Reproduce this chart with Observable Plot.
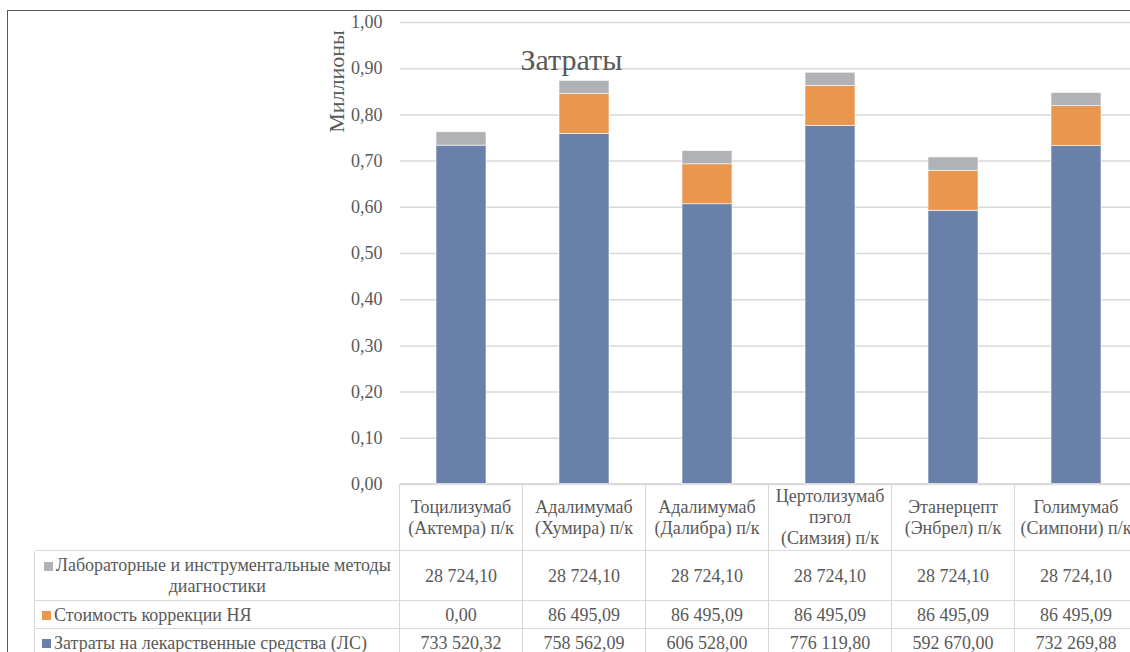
<!DOCTYPE html>
<html>
<head>
<meta charset="utf-8">
<script src="https://cdn.jsdelivr.net/npm/d3@7"></script>
<script src="https://cdn.jsdelivr.net/npm/@observablehq/plot@0.6"></script>
<style>
  body { margin: 0; background: #fff; }
  #wrap { position: relative; width: 1130px; height: 652px; overflow: hidden;
          font-family: "Liberation Serif", "Tinos", "Times New Roman", "DejaVu Serif", "Noto Serif", serif; color: #595959; }
  #frame { position: absolute; left: 7px; top: 10px; width: 1300px; height: 800px;
           border-left: 1.5px solid #5a5a5a; border-top: 1.5px solid #5a5a5a; box-sizing: border-box; }
  .cell { position: absolute; box-sizing: border-box; display: flex; align-items: center;
          justify-content: center; text-align: center; font-size: 18px; line-height: 21px; white-space: nowrap; }
  .hl { position: absolute; height: 0; border-top: 1.5px solid #d9d9d9; }
  .vl { position: absolute; width: 0; border-left: 1.5px solid #d9d9d9; }
  .key { display: inline-block; width: 9px; height: 9px; margin-right: 3px; vertical-align: 0px; }
  #chart { position: absolute; left: 0; top: 0; }
  #chart svg text { font-family: "Liberation Serif", "Tinos", "Times New Roman", "DejaVu Serif", "Noto Serif", serif; }
</style>
</head>
<body>
<div id="wrap">
  <div id="chart"></div>
  <div id="table"></div>
  <div id="frame"></div>
</div>
<script>
// ---- data ----
const categories = [
  "Тоцилизумаб (Актемра) п/к",
  "Адалимумаб (Хумира) п/к",
  "Адалимумаб (Далибра) п/к",
  "Цертолизумаб пэгол (Симзия) п/к",
  "Этанерцепт (Энбрел) п/к",
  "Голимумаб (Симпони) п/к"
];
const headerLines = [
  ["Тоцилизумаб", "(Актемра) п/к"],
  ["Адалимумаб", "(Хумира) п/к"],
  ["Адалимумаб", "(Далибра) п/к"],
  ["Цертолизумаб", "пэгол", "(Симзия) п/к"],
  ["Этанерцепт", "(Энбрел) п/к"],
  ["Голимумаб", "(Симпони) п/к"]
];
const seriesNames = [
  "Затраты на лекарственные средства (ЛС)",
  "Стоимость коррекции НЯ",
  "Лабораторные и инструментальные методы диагностики"
];
const drugCosts = [733520.32, 758562.09, 606528.00, 776119.80, 592670.00, 732269.88];
const aeCosts   = [0.00, 86495.09, 86495.09, 86495.09, 86495.09, 86495.09];
const labCosts  = [28724.10, 28724.10, 28724.10, 28724.10, 28724.10, 28724.10];
const seriesColors = ["#6980a9", "#e9964f", "#b1b2b5"];
const yTicks = [0, 0.1, 0.2, 0.3, 0.4, 0.5, 0.6, 0.7, 0.8, 0.9, 1.0];
const title = "Затраты";
const yLabel = "Миллионы";

// ---- build table for Plot ----
const seriesValues = [drugCosts, aeCosts, labCosts];
const rows = [];
seriesNames.forEach((s, si) => {
  categories.forEach((c, ci) => rows.push({cat: c, series: s, value: seriesValues[si][ci]}));
});

const W = 1130, H = 652;
const plot = Plot.plot({
  width: W, height: H,
  marginLeft: 400, marginRight: 0, marginTop: 22, marginBottom: H - 484,
  style: {fontSize: "18px", color: "#595959", background: "transparent", overflow: "hidden"},
  x: {domain: categories, range: [400, 1138], paddingInner: 0.593, paddingOuter: 0.2965, axis: null},
  y: {domain: [0, 1], axis: null},
  color: {domain: seriesNames, range: seriesColors},
  marks: [
    Plot.gridY(yTicks, {stroke: "#d9d9d9", strokeOpacity: 1, strokeWidth: 1.5}),
    Plot.barY(rows, {x: "cat", y: d => d.value / 1e6, fill: "series", stroke: "#ffffff", strokeWidth: 0.6}),
    Plot.axisY(yTicks, {tickSize: 0, tickPadding: 18, tickFormat: d => d.toFixed(2).replace(".", ","), fill: "#595959", fontSize: 18}),
    Plot.text([title], {frameAnchor: "top-left", dx: 120, dy: 26, textAnchor: "start", fontSize: 30, fill: "#595959"}),
    Plot.text([yLabel], {frameAnchor: "top-left", dx: -72, dy: 59, rotate: -90, textAnchor: "middle", fontSize: 22, fill: "#595959"})
  ]
});
document.getElementById("chart").appendChild(plot);

// ---- data table below the chart, aligned to the x scale ----
const xs = plot.scale("x");
const fmt = d3.formatLocale({decimal: ",", thousands: "\u00a0", grouping: [3]}).format(",.2f");
const tbl = document.getElementById("table");
const rowY = [484, 551, 601, 629, 662];
const legendLeft = 35;
const colEdge = c => xs.apply(c) - (xs.step - xs.bandwidth) / 2;
const lastEdge = colEdge(categories[categories.length - 1]) + xs.step;
const edges = categories.map(colEdge).concat([lastEdge]);

function add(cls, style, html) {
  const d = document.createElement("div");
  d.className = cls;
  Object.assign(d.style, style);
  if (html != null) d.innerHTML = html;
  tbl.appendChild(d);
  return d;
}
add("hl", {left: edges[0] + "px", top: (rowY[0] - 0.75) + "px", width: (lastEdge - edges[0]) + "px"});
for (let i = 1; i < 4; i++) add("hl", {left: legendLeft + "px", top: (rowY[i] - 0.75) + "px", width: (lastEdge - legendLeft) + "px"});
add("vl", {left: (legendLeft - 0.75) + "px", top: rowY[1] + "px", height: (rowY[4] - rowY[1]) + "px"});
edges.forEach(e => add("vl", {left: (e - 0.75) + "px", top: rowY[0] + "px", height: (rowY[4] - rowY[0]) + "px"}));

categories.forEach((c, i) => {
  add("cell", {left: edges[i] + "px", top: rowY[0] + "px", width: xs.step + "px", height: (rowY[1] - rowY[0]) + "px"},
      headerLines[i].join("<br>"));
});
const order = [2, 1, 0];
order.forEach((si, r) => {
  const top = rowY[r + 1], h = (r === 2 ? 28 : rowY[r + 2] - rowY[r + 1]);
  const key = `<span class="key" style="background:${seriesColors[si]}"></span>`;
  if (si === 2) {
    const label = key + "Лабораторные и инструментальные методы<br>диагностики";
    add("cell", {left: legendLeft + "px", top: top + "px", width: (edges[0] - legendLeft) + "px", height: h + "px"}, `<div>${label}</div>`);
  } else {
    add("cell", {left: legendLeft + "px", top: top + "px", width: (edges[0] - legendLeft) + "px", height: h + "px",
                 justifyContent: "flex-start", paddingLeft: "7px"}, key + seriesNames[si]);
  }
  categories.forEach((c, i) => {
    add("cell", {left: edges[i] + "px", top: top + "px", width: xs.step + "px", height: h + "px"}, fmt(seriesValues[si][i]));
  });
});
</script>
</body>
</html>
